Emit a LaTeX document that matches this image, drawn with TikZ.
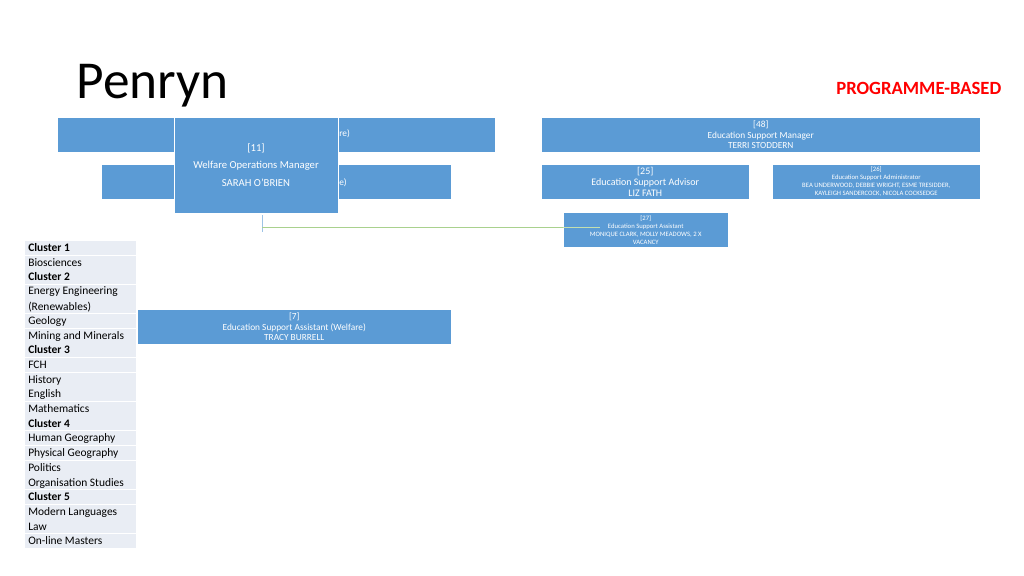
\documentclass[tikz,border=0pt]{standalone}
\usepackage{fontspec}
\setmainfont{Carlito}
\definecolor{boxblue}{HTML}{5B9BD5}
\definecolor{rowfill}{HTML}{E9EDF4}
\definecolor{linkgreen}{HTML}{A9D18E}
\begin{document}
\begin{tikzpicture}[x=0.75pt,y=-0.75pt,
  post/.style={draw=white,fill=boxblue,text=white,anchor=north west,inner sep=1pt,
    align=center,font=\fontsize{7}{8}\selectfont},
  row/.style={anchor=west,inner sep=0pt,font=\fontsize{8.6}{10}\selectfont}]
\useasboundingbox (0,0) rectangle (1024,575);

\node[font=\fontsize{40}{42}\selectfont,anchor=west] (title) at (72,86) {Penryn};
\node[font=\bfseries\fontsize{14}{16}\selectfont,text=red,anchor=east] (mode) at (1006,88) {PROGRAMME-BASED};

% left side, partly hidden
\node[post,minimum width=438*0.75pt,minimum height=35*0.75pt] (welfA) at (57,117) {};
\node[anchor=west,text=white,inner sep=0pt,font=\fontsize{7}{8}\selectfont] (welfAt) at (339,134) {re)};
\node[post,minimum width=350*0.75pt,minimum height=35*0.75pt] (welfB) at (101,164) {};
\node[anchor=west,text=white,inner sep=0pt,font=\fontsize{7}{8}\selectfont] (welfBt) at (339,183) {e)};
\node[post,minimum width=164*0.75pt,minimum height=96*0.75pt] (wom) at (174,117) {};
\node[text=white,font=\fontsize{8}{13}\selectfont,align=center] (womt) at (256,165) {[11]\\Welfare Operations Manager\\SARAH O'BRIEN};

% right side
\node[post,minimum width=439*0.75pt,minimum height=35*0.75pt] (esm) at (541,117) {};
\node[text=white,font=\fontsize{7}{8}\selectfont,align=center] at (esm.center) {[48]\\Education Support Manager\\TERRI STODDERN};
\node[post,minimum width=208*0.75pt,minimum height=35*0.75pt] (esadv) at (541,164) {};
\node[text=white,font=\fontsize{7.5}{8.5}\selectfont,align=center] at (esadv.center) {[25]\\Education Support Advisor\\LIZ FATH};
\node[post,minimum width=208*0.75pt,minimum height=35*0.75pt] (esadm) at (772,164) {};
\node[text=white,font=\fontsize{5}{6}\selectfont,align=center] at (esadm.center) {[26]\\Education Support Administrator\\BEA UNDERWOOD, DEBBIE WRIGHT, ESME TRESIDDER,\\KAYLEIGH SANDERCOCK, NICOLA COCKSEDGE};

% connector
\coordinate (drop) at (262,227);
\draw[boxblue!60,thin] (262,215) -- (262,232);
\draw[linkgreen,thin] (drop) -- (600,227);

\node[post,minimum width=165*0.75pt,minimum height=35*0.75pt] (esa) at (563,212) {};
\node[text=white,font=\fontsize{5}{6}\selectfont,align=center] at (esa.center) {[27]\\Education Support Assistant\\MONIQUE CLARK, MOLLY MEADOWS, 2 X\\VACANCY};
\draw[linkgreen!70,thin] (563,227) -- (600,227);
\node[post,minimum width=314*0.75pt,minimum height=35*0.75pt] (esaw) at (137,309) {};
\node[text=white,font=\fontsize{7}{8}\selectfont,align=center] at (esaw.center) {[7]\\Education Support Assistant (Welfare)\\TRACY BURRELL};

% programme list
\foreach \y/\h in {241/1,256/1,270/1,285/2,314/1,329/1,343/1,358/1,373/1,387/1,402/1,416/1,431/1,446/1,461/1,475/1,490/1,505/1,519/1,534/1}
  \fill[rowfill] (25,\y) rectangle (136,\y+14.2*\h);
\foreach \y/\t in {248/\textbf{Cluster 1},263/Biosciences,277/\textbf{Cluster 2},292/Energy Engineering,307/(Renewables),
  321/Geology,336/Mining and Minerals,350/\textbf{Cluster 3},365/FCH,380/History,394/English,409/Mathematics,
  424/\textbf{Cluster 4},438/Human Geography,453/Physical Geography,468/Politics,483/Organisation Studies,
  497/\textbf{Cluster 5},512/Modern Languages,527/Law,541/On-line Masters}
  \node[row] at (28,\y) {\t};
\end{tikzpicture}
\end{document}
